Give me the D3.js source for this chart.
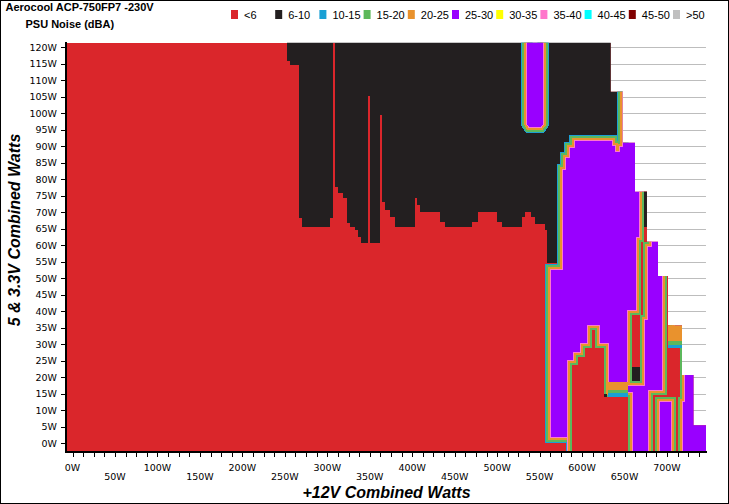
<!DOCTYPE html>
<html><head><meta charset="utf-8">
<script src="https://cdn.jsdelivr.net/npm/d3@7"></script>
<style>body{margin:0;background:#fff}svg{display:block}</style>
</head><body><svg id="c" width="729" height="504"></svg>
<script>
// ---------- DATA ----------
const categories = ["<6","6-10","10-15","15-20","20-25","25-30","30-35","35-40","40-45","45-50",">50"];
const catColors  = ["#da262b","#231f20","#1aa0d4","#5cb85c","#e9922d","#9900ff","#ffff00","#ff77cc","#00ffff","#800000","#c0c0c0"];
const xLabels = [0,50,100,150,200,250,300,350,400,450,500,550,600,650,700];
const yLabels = [0,5,10,15,20,25,30,35,40,45,50,55,60,65,70,75,80,85,90,95,100,105,110,115,120];

// measured envelope (max 5&3.3V load for each +12V load range)
const envX   = [633.7,647.8,662.3,676.4,689.4,701.2,717.7,731.2,745.9];
const envTop = [121.4,106.5,91.1,76.2,61.1,50.7,35.8,20.7,5.5];

// 6-10 dBA region: lower boundary per +12V load
const blackX   = [252.2,256.1,266.7,269.9,303.2,306.4,309.1,313.0,318.9,322.9,326.7,332.6,336.5,339.3,347.9,350.3,362.1,364.4,367.9,373.8,379.7,403.3,406.0,409.2,432.7,438.6,470.0,477.8,499.5,505.4,528.9,532.8,539.9,544.6,556.3,558.7,570.5,648];
const blackLow = [115.9,114.6,68.2,65.6,68.2,121.4,77.8,75.8,74.2,66.7,65.6,64.6,62.6,60.6,105.3,60.6,99.5,73.2,70.7,68.7,65.6,74.2,72.2,70.2,67.2,65.6,67.2,70.2,67.2,65.6,68.7,70.2,68.6,66.5,64.6,54.7,43.4,43.4];

// 25-30 dBA regions (outlines)
const purpleMain = [[563.4,1.9],[563.4,52.5],[577.5,52.5],[577.5,82.8],[581.1,82.8],[581.1,86.5],[585.8,86.5],[585.8,89.5],[591.7,89.5],[591.7,91.6],[635.2,91.6],[635.2,90.1],[638.8,90.1],[638.8,88.3],[644.6,88.3],[644.6,89.8],[648.2,89.8],[648.2,125],[760,125],[760,-5],[587.8,-5],[587.8,1.9]];
const purpleTop  = [[535.2,125],[535.2,96.8],[537.5,95.9],[551.6,95.9],[554.0,96.8],[554.0,125]];

// <6 dBA islands inside the 25-30 region
const redIsland1 = [[587.8,-5],[587.8,23.7],[595.2,23.7],[595.2,26.2],[603.4,26.2],[603.4,28.8],[611.7,28.8],[611.7,34.3],[615.2,34.3],[615.2,28.8],[625.8,28.8],[625.8,14.1],[654.1,14.1],[654.1,-5]];
const redIsland2 = [[672.9,80],[676.4,80],[676.4,61.0],[671.7,61.0],[671.7,38.9],[668.2,38.9],[668.2,18.9],[658.8,18.9],[658.8,38.9],[669.4,38.9],[669.4,61.0],[672.9,61.0]];
const redIsland3 = [[700.0,55],[703.5,55],[703.5,29.2],[715.3,29.2],[715.3,14.0],[712.9,14.0],[712.9,-5],[710.6,-5],[710.6,14.0],[685.9,14.0],[685.9,-5],[683.5,-5],[683.5,14.6],[700.0,14.6]];

// small blocks [x0,x1,y0,y1,categoryIndex]
const blocks = [
  [630.9,654.1,16.2,18.7,4],
  [630.9,654.1,15.2,16.2,3],
  [630.9,654.1,14.1,15.2,2],
  [672.9,676.4,65.6,80,1],
  [658.8,668.2,18.9,23.1,1],
  [625.8,629.3,14.0,14.9,1],
  [701.2,717.7,31.0,35.8,4],
  [701.2,717.7,29.8,31.0,3],
  [701.2,717.7,28.9,29.8,2]
];

// ---------- DRAW ----------
const svg = d3.select("#c");
svg.append("rect").attr("x",0.5).attr("y",0.5).attr("width",728).attr("height",503)
  .attr("fill","#fff").attr("stroke","#000").attr("stroke-width",1);

const x = d3.scaleLinear().domain([0,700]).range([72.5,667]);
const y = d3.scaleLinear().domain([0,120]).range([443.3,47.3]);
const X0=-6.5, X1=745.9, Y0=-2.6, Y1=121.4;

// gridlines
svg.append("g").selectAll("line").data(yLabels).join("line")
  .attr("x1",x(X0)).attr("x2",x(X1)).attr("y1",d=>Math.round(y(d))+0.5).attr("y2",d=>Math.round(y(d))+0.5)
  .attr("stroke","#bdbdbd").attr("stroke-width",1);

// envelope clip
const env = [[X0,Y0],[X0,envTop[0]]];
envX.forEach((ex,i)=>{ env.push([ex,envTop[i]]); if(i+1<envX.length) env.push([ex,envTop[i+1]]); });
env.push([envX[envX.length-1],Y0]);
const L = d3.line().x(d=>x(d[0])).y(d=>y(d[1]));
svg.append("defs").append("clipPath").attr("id","env").append("path").attr("d",L(env)+"Z");

const g = svg.append("g").attr("clip-path","url(#env)").attr("shape-rendering","crispEdges");
g.append("rect").attr("x",x(X0)).attr("y",y(Y1)).attr("width",x(X1)-x(X0)).attr("height",y(Y0)-y(Y1)).attr("fill",catColors[0]);

const blackArea = d3.area().curve(d3.curveStepAfter)
  .x((d,i)=>x(blackX[i])).y0((d,i)=>y(blackLow[i])).y1(y(126));
g.append("path").attr("d",blackArea(blackX)).attr("fill",catColors[1]);

function banded(pts, fill, layers){
  const d = L(pts)+"Z";
  layers.forEach(([c,w])=>{
    g.append("path").attr("d",d).attr("fill","none").attr("stroke",c).attr("stroke-width",w).attr("stroke-linejoin","miter");
  });
  g.append("path").attr("d",d).attr("fill",fill);
}
const purpleLayers = [[catColors[2],12],[catColors[3],10],[catColors[4],6],[catColors[7],2]];
const redLayers = [[catColors[7],10],[catColors[4],8],[catColors[3],4]];
banded(purpleTop, catColors[5], purpleLayers);
banded(purpleMain, catColors[5], purpleLayers);
[redIsland1, redIsland2, redIsland3].forEach(p=>banded(p, catColors[0], redLayers));

g.selectAll("rect.blk").data(blocks).join("rect").attr("class","blk")
  .attr("x",d=>x(d[0])).attr("width",d=>x(d[1])-x(d[0]))
  .attr("y",d=>y(d[3])).attr("height",d=>y(d[2])-y(d[3]))
  .attr("fill",d=>catColors[d[4]]);

// axes
const axisFont = "'DejaVu Sans', Verdana, sans-serif";
svg.append("line").attr("x1",66).attr("x2",66).attr("y1",42).attr("y2",453).attr("stroke","#000").attr("stroke-width",2);
svg.append("line").attr("x1",65).attr("x2",707).attr("y1",452).attr("y2",452).attr("stroke","#000").attr("stroke-width",2);

const yAx = svg.append("g");
yAx.selectAll("line").data(yLabels).join("line")
  .attr("x1",61).attr("x2",65).attr("y1",d=>Math.round(y(d))+0.5).attr("y2",d=>Math.round(y(d))+0.5)
  .attr("stroke","#000");
yAx.selectAll("text").data(yLabels).join("text")
  .attr("x",57).attr("y",d=>y(d)+3.5).attr("text-anchor","end")
  .attr("font-family",axisFont).attr("font-size","9.5px").attr("fill","#000")
  .text(d=>d+"W");

const xTicks = d3.range(0,740,12.5);
const xAx = svg.append("g");
xAx.selectAll("line").data(xTicks).join("line")
  .attr("x1",d=>Math.round(x(d))+0.5).attr("x2",d=>Math.round(x(d))+0.5).attr("y1",453).attr("y2",457)
  .attr("stroke","#000");
xAx.selectAll("text").data(xLabels).join("text")
  .attr("x",d=>x(d)).attr("y",d=>d%100===0?471:480).attr("text-anchor","middle")
  .attr("font-family",axisFont).attr("font-size","9.5px").attr("fill","#000")
  .text(d=>d+"W");

const titleFont = "'Liberation Sans', Arial, sans-serif";
svg.append("text").attr("x",386.5).attr("y",498).attr("text-anchor","middle")
  .attr("font-family",titleFont).attr("font-size","16px").attr("font-weight","bold").attr("font-style","italic")
  .text("+12V Combined Watts");
svg.append("text").attr("transform","translate(20,230) rotate(-90)").attr("text-anchor","middle")
  .attr("font-family",titleFont).attr("font-size","16px").attr("font-weight","bold").attr("font-style","italic")
  .text("5 & 3.3V Combined Watts");

svg.append("text").attr("x",5.5).attr("y",11).attr("font-family",titleFont).attr("font-size","11px").attr("font-weight","bold")
  .text("Aerocool ACP-750FP7 -230V");
svg.append("text").attr("x",25.5).attr("y",28).attr("font-family",titleFont).attr("font-size","11px").attr("font-weight","bold")
  .text("PSU Noise (dBA)");

// legend
const lg = svg.append("g").selectAll("g").data(categories).join("g")
  .attr("transform",(d,i)=>`translate(${231+i*44.2},0)`);
lg.append("rect").attr("x",0).attr("y",10).attr("width",7).attr("height",9).attr("fill",(d,i)=>catColors[i]);
lg.append("text").attr("x",13).attr("y",19).attr("font-family",titleFont).attr("font-size","11px").text(d=>d);
</script></body></html>
